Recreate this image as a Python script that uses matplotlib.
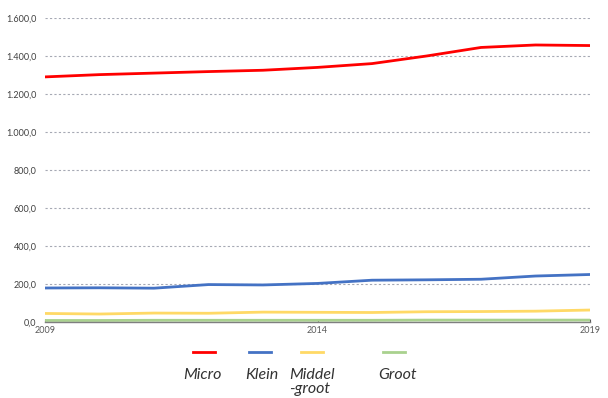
import matplotlib
matplotlib.use("Agg")
import matplotlib.pyplot as plt
from matplotlib.lines import Line2D
from matplotlib.ticker import FuncFormatter

plt.rcParams['font.family'] = ['Lato', 'DejaVu Sans']

# Data
years = [2009, 2010, 2011, 2012, 2013, 2014, 2015, 2016, 2017, 2018, 2019]
micro = [1290, 1302, 1310, 1318, 1325, 1340, 1360, 1400, 1445, 1458, 1455]
klein = [179, 180, 178, 197, 195, 203, 220, 222, 225, 242, 250]
middelgroot = [45, 42, 47, 46, 52, 51, 50, 54, 55, 57, 63]
groot = [8, 8, 9, 9, 9, 9, 9, 10, 10, 10, 10]

series_names = ["Micro", "Klein", "Middel\n-groot", "Groot"]
colors = ["#ff0000", "#4472c4", "#ffd966", "#a9d18e"]

fig = plt.figure(figsize=(6.08, 3.98), dpi=100)
ax = fig.add_axes([45 / 608, 1 - 322 / 398, 545 / 608, 304 / 398])

for vals, c in zip([micro, klein, middelgroot, groot], colors):
    ax.plot(years, vals, color=c, linewidth=2.0, solid_capstyle='round')

ax.set_xlim(2009, 2019)
ax.set_ylim(0, 1600)
ax.set_yticks(range(0, 1601, 200))
ax.set_xticks([2009, 2014, 2019])


def fmt(v, pos):
    s = f"{v:,.1f}"
    return s.replace(",", "X").replace(".", ",").replace("X", ".")


ax.yaxis.set_major_formatter(FuncFormatter(fmt))
ax.grid(axis='y', color='#a6a9b4', linestyle=(0, (2, 2)), linewidth=0.8)
ax.set_axisbelow(True)
for s in ['top', 'right', 'left']:
    ax.spines[s].set_visible(False)
ax.spines['bottom'].set_color('#7f7f7f')
ax.spines['bottom'].set_linewidth(1.0)
ax.tick_params(axis='y', length=0, labelsize=6.5, colors='#404040', pad=6)
ax.tick_params(axis='x', length=2, labelsize=6.5, colors='#595959', pad=3,
               direction='in')

# Legend drawn by hand below the axes: short line above each label
line_x = [204, 260, 312, 394]
label_x = [183, 245, 289, 378]
for name, c, lx, tx in zip(series_names, colors, line_x, label_x):
    fig.add_artist(Line2D([(lx - 11) / 608, (lx + 11) / 608],
                          [1 - 352 / 398, 1 - 352 / 398],
                          color=c, linewidth=2.0))
    fig.text(tx / 608, 1 - 368 / 398, name, ha='left', va='top',
             fontsize=11.5, style='italic', color='#333333', linespacing=1.0)

fig.savefig("out.png", dpi=100)
